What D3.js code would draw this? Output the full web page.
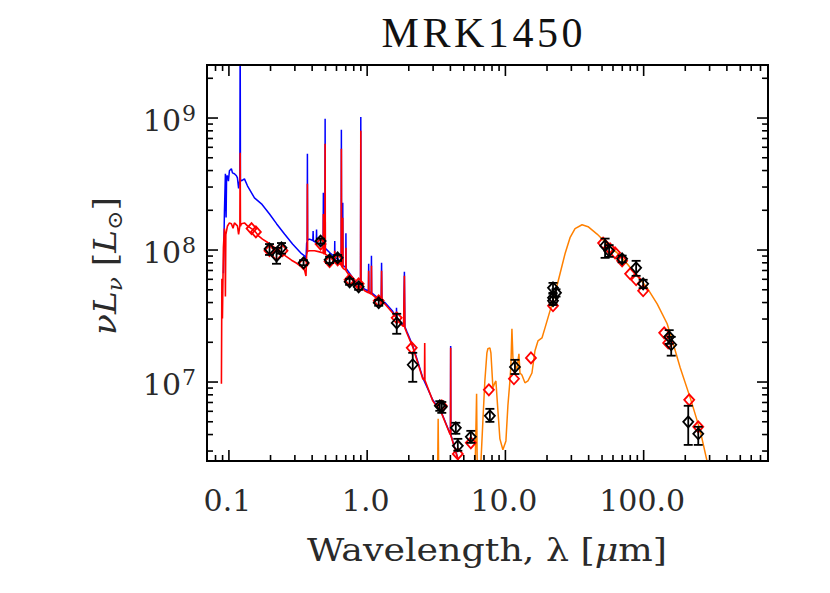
<html>
<head>
<script src="https://d3js.org/d3.v7.min.js"></script>
<style>
body { margin: 0; background: #fff; }
text { font-family: "Liberation Serif", "DejaVu Serif", serif; fill: #111; }
text.num { font-family: "DejaVu Serif", serif; fill: #2a2a2a; }
</style>
</head>
<body>
<svg id="sed" width="830" height="593"></svg>
<script>
// ---- data (wavelength in micron, nuL_nu in L_sun) ----
var titleText = "MRK1450";

// stellar template, unattenuated (blue)
var blueSpec = [
  [0.0920, 6.6e7], [0.0936, 1.96e8], [0.0951, 3.75e8], [0.0962, 1.75e8], [0.0970, 3.6e8],
  [0.0983, 3.62e8], [0.1000, 3.3e8], [0.1017, 3.95e8], [0.1051, 4.09e8], [0.1070, 3.81e8],
  [0.1105, 3.75e8], [0.1143, 3.62e8], [0.1162, 3.49e8], [0.1185, 2.9e8], [0.1210, 3.4e8],
  [0.1216, 5.0e9], [0.1222, 3.4e8], [0.1242, 3.31e8], [0.1306, 3.43e8], [0.1373, 3.04e8],
  [0.1543, 2.46e8], [0.1734, 2.22e8], [0.1983, 1.86e8], [0.2228, 1.57e8], [0.2545, 1.31e8],
  [0.2910, 1.10e8], [0.3381, 9.3e7], [0.3554, 8.96e7], [0.3640, 8.3e7], [0.3680, 1.12e8],
  [0.3715, 1.15e8], [0.3727, 5.31e8], [0.3740, 1.18e8], [0.3864, 1.20e8], [0.4080, 1.17e8],
  [0.4100, 1.38e8], [0.4120, 1.16e8], [0.4320, 1.13e8], [0.4340, 1.42e8], [0.4360, 1.12e8],
  [0.4564, 1.10e8], [0.4845, 1.06e8], [0.4861, 2.69e8], [0.4877, 1.05e8], [0.4990, 1.03e8],
  [0.5007, 9.78e8], [0.5024, 1.02e8], [0.5395, 9.5e7], [0.5860, 8.8e7], [0.5876, 1.16e8],
  [0.5892, 8.7e7], [0.6165, 8.5e7], [0.6540, 8.0e7], [0.6563, 8.07e8], [0.6585, 7.9e7],
  [0.6690, 7.7e7], [0.6717, 2.26e8], [0.6740, 7.6e7], [0.7060, 7.3e7], [0.7080, 1.33e8],
  [0.7100, 7.2e7], [0.7600, 6.5e7], [0.8500, 5.5e7], [0.9030, 5.35e7], [0.9069, 1.01e9],
  [0.9100, 5.3e7], [0.9672, 5.0e7], [1.0300, 4.85e7], [1.0340, 7.79e7], [1.0380, 4.8e7],
  [1.0790, 4.7e7], [1.0830, 8.96e7], [1.0870, 4.7e7], [1.2420, 4.2e7], [1.2740, 4.08e7],
  [1.2820, 7.93e7], [1.2900, 4.05e7], [1.3500, 3.98e7], [1.5430, 3.4e7], [1.6400, 3.05e7],
  [1.6440, 3.62e7], [1.6480, 3.02e7], [1.7340, 2.85e7], [1.8500, 2.66e7], [1.8750, 6.78e7],
  [1.8900, 2.6e7], [1.9500, 2.4e7], [2.1540, 1.87e7], [2.3420, 1.42e7], [2.5450, 1.07e7],
  [3.0080, 7.25e6], [3.4950, 5.75e6], [3.9950, 4.08e6], [4.0400, 4.0e6], [4.0520, 1.86e7],
  [4.0640, 3.95e6], [4.5640, 2.62e6], [4.9000, 2.0e6]
];

// stellar template, attenuated (red)
var redSpec = [
  [0.0890, 9.6e6], [0.0897, 6.0e7], [0.0905, 3.0e7], [0.0920, 1.03e8], [0.0936, 1.44e8],
  [0.0945, 1.2e8], [0.0951, 4.4e7], [0.0958, 1.3e8], [0.0983, 1.50e8], [0.1017, 1.59e8],
  [0.1051, 1.57e8], [0.1080, 1.45e8], [0.1105, 1.59e8], [0.1162, 1.51e8], [0.1185, 1.30e8],
  [0.1210, 1.52e8], [0.1216, 5.4e8], [0.1222, 1.50e8], [0.1242, 1.57e8], [0.1306, 1.59e8],
  [0.1373, 1.51e8], [0.1468, 1.44e8], [0.1543, 1.39e8], [0.1650, 1.27e8], [0.1764, 1.20e8],
  [0.1900, 1.14e8], [0.2049, 1.08e8], [0.2250, 1.00e8], [0.2421, 9.5e7], [0.2600, 8.9e7],
  [0.2861, 8.3e7], [0.3100, 7.9e7], [0.3381, 7.4e7], [0.3554, 7.0e7], [0.3640, 6.3e7],
  [0.3680, 9.0e7], [0.3715, 9.6e7], [0.3727, 3.15e8], [0.3740, 9.7e7], [0.3864, 9.8e7],
  [0.4201, 9.8e7], [0.4564, 9.6e7], [0.4845, 9.4e7], [0.4861, 1.86e8], [0.4877, 9.3e7],
  [0.4990, 9.3e7], [0.5007, 6.32e8], [0.5024, 9.2e7], [0.5395, 8.8e7], [0.5860, 8.4e7],
  [0.5876, 9.8e7], [0.5892, 8.3e7], [0.6165, 8.1e7], [0.6540, 7.6e7], [0.6563, 5.79e8],
  [0.6585, 7.5e7], [0.6690, 7.3e7], [0.6717, 1.74e8], [0.6740, 7.2e7], [0.7060, 7.0e7],
  [0.7080, 1.03e8], [0.7100, 6.9e7], [0.7600, 6.2e7], [0.8500, 5.3e7],
  [0.9030, 5.2e7], [0.9069, 7.93e8], [0.9100, 5.2e7], [0.9672, 4.87e7], [1.0300, 4.7e7],
  [1.0340, 6.9e7], [1.0380, 4.7e7], [1.0790, 4.6e7], [1.0830, 7.52e7], [1.0870, 4.6e7],
  [1.2420, 4.09e7], [1.2740, 3.97e7], [1.2820, 6.9e7], [1.2900, 3.93e7], [1.3500, 3.88e7],
  [1.5430, 3.31e7], [1.7340, 2.78e7], [1.8500, 2.6e7], [1.8750, 6.32e7], [1.8900, 2.55e7],
  [1.9500, 2.34e7], [2.1540, 1.83e7], [2.3420, 1.39e7], [2.5450, 1.05e7], [2.6200, 1.03e7],
  [2.6300, 1.96e7], [2.6400, 1.02e7], [3.0080, 7.14e6], [3.4950, 5.69e6], [3.9950, 4.02e6],
  [4.0400, 3.95e6], [4.0520, 1.80e7], [4.0640, 3.9e6], [4.5640, 2.60e6], [4.9000, 2.0e6]
];

// dust emission model (orange)
var dustSpec = [
  [3.10, 1.2e6], [3.26, 2.0e6], [3.29, 5.22e6], [3.32, 2.0e6], [3.50, 1.2e6],
  [5.80, 1.2e6], [6.10, 2.4e6], [6.24, 8.07e6], [6.30, 2.6e6], [6.45, 1.8e6],
  [6.70, 2.4e6], [6.93, 5.04e6], [7.16, 1.01e7], [7.41, 1.65e7], [7.53, 1.77e7],
  [7.79, 1.80e7], [7.92, 1.65e7], [8.19, 8.96e6], [8.46, 9.78e6], [8.61, 1.01e7],
  [8.75, 7.79e6], [9.20, 3.68e6], [9.67, 3.04e6], [10.17, 3.55e6], [10.51, 6.55e6],
  [10.87, 1.01e7], [11.05, 1.32e7], [11.24, 2.51e7], [11.43, 1.51e7], [11.82, 1.32e7],
  [12.22, 1.25e7], [12.63, 1.62e7], [12.85, 1.16e7], [13.28, 1.12e7], [13.96, 9.78e6],
  [14.68, 1.01e7], [15.69, 1.16e7], [16.50, 1.71e7], [17.34, 2.03e7], [18.54, 2.14e7],
  [19.50, 2.55e7], [21.19, 3.43e7], [23.03, 4.62e7], [25.04, 6.55e7], [27.22, 9.28e7],
  [29.58, 1.23e8], [32.16, 1.44e8], [36.14, 1.54e8], [39.95, 1.49e8], [46.42, 1.31e8],
  [54.85, 1.10e8], [64.80, 9.44e7], [76.57, 7.79e7], [90.48, 6.32e7], [106.9, 5.13e7],
  [126.3, 3.88e7], [149.2, 2.74e7], [165.0, 1.93e7], [185.4, 1.27e7], [219.1, 7.52e6],
  [258.8, 4.23e6], [291.0, 2.45e6], [330.0, 1.4e6]
];

// model photometry (red diamonds)
var modelPoints = [
  [0.147, 1.44e8], [0.158, 1.36e8], [0.1983, 9.8e7], [0.2228, 9.1e7], [0.2462, 9.8e7],
  [0.3495, 7.8e7], [0.4642, 1.10e8], [0.5395, 8.1e7], [0.6165, 8.35e7], [0.753, 5.9e7],
  [0.875, 5.5e7], [1.222, 4.09e7], [1.65, 3.04e7], [2.119, 1.80e7], [3.495, 6.55e6],
  [4.564, 2.83e6], [5.67, 3.43e6], [7.657, 8.65e6], [11.62, 1.05e7], [15.43, 1.51e7],
  [22.28, 3.75e7], [51.31, 1.12e8], [57.67, 1.01e8], [62.67, 9.44e7], [70.44, 8.21e7],
  [80.48, 6.55e7], [88.97, 5.9e7], [100.0, 4.87e7], [142.0, 2.34e7], [151.7, 1.96e7],
  [215.4, 7.27e6], [250.4, 4.54e6]
];

// observed photometry: wavelength, value, lower, upper (black diamonds)
var obsPoints = [
  [0.1983, 1.01e8, 9.1e7, 1.10e8], [0.2228, 8.96e7, 7.8e7, 1.03e8], [0.2421, 1.03e8, 9.3e7, 1.12e8],
  [0.3495, 7.93e7, 7.6e7, 8.3e7], [0.4642, 1.16e8, 1.11e8, 1.21e8], [0.5395, 8.35e7, 7.9e7, 8.8e7],
  [0.6165, 8.65e7, 8.2e7, 9.1e7], [0.753, 5.69e7, 5.4e7, 6.0e7], [0.875, 5.22e7, 4.95e7, 5.5e7],
  [1.222, 3.95e7, 3.75e7, 4.15e7], [1.65, 2.78e7, 2.30e7, 3.26e7], [2.154, 1.34e7, 9.95e6, 1.65e7],
  [3.381, 6.55e6, 6.0e6, 7.1e6], [3.495, 6.43e6, 5.79e6, 7.0e6], [4.415, 4.46e6, 4.02e6, 4.87e6],
  [4.564, 3.26e6, 2.99e6, 3.68e6], [5.67, 3.81e6, 3.43e6, 4.23e6], [7.786, 5.5e6, 4.95e6, 6.21e6],
  [11.82, 1.29e7, 1.14e7, 1.46e7], [22.28, 5.13e7, 4.62e7, 5.59e7], [22.28, 4.31e7, 3.95e7, 4.7e7],
  [22.28, 4.09e7, 3.8e7, 4.4e7], [23.42, 4.70e7, 4.4e7, 5.0e7], [53.05, 1.07e8, 8.65e7, 1.21e8],
  [56.7, 9.77e7, 8.8e7, 1.08e8], [70.44, 8.5e7, 8.0e7, 9.0e7], [88.97, 7.27e7, 6.32e7, 8.21e7],
  [100.0, 5.5e7, 5.1e7, 5.9e7], [154.3, 2.18e7, 1.93e7, 2.45e7], [159.6, 1.90e7, 1.57e7, 2.18e7],
  [211.9, 4.95e6, 3.31e6, 6.55e6], [250.4, 4.02e6, 3.31e6, 4.54e6]
];

// ticks
var xMajor = [0.1, 1, 10, 100];
var xLabels = ["0.1", "1.0", "10.0", "100.0"];
var xMinor = [0.08, 0.09, 0.2, 0.3, 0.4, 0.5, 0.6, 0.7, 0.8, 0.9, 2, 3, 4, 5, 6, 7, 8, 9,
              20, 30, 40, 50, 60, 70, 80, 90, 200, 300, 400, 500, 600, 700];
var yMajor = [1e7, 1e8, 1e9];
var yLabels = ["7", "8", "9"];
var yMinor = [3e6, 4e6, 5e6, 6e6, 7e6, 8e6, 9e6, 2e7, 3e7, 4e7, 5e7, 6e7, 7e7, 8e7, 9e7,
              2e8, 3e8, 4e8, 5e8, 6e8, 7e8, 8e8, 9e8, 2e9];

// ---- layout ----
var pLeft = 207, pRight = 768, pTop = 65, pBottom = 461;

var svg = d3.select("#sed");

var x = d3.scaleLog().domain([0.07, 800]).range([pLeft, pRight]);
var y = d3.scaleLog().domain([2.5e6, 2.5e9]).range([pBottom, pTop]);

svg.append("clipPath").attr("id", "plotclip")
  .append("rect").attr("x", pLeft).attr("y", pTop)
  .attr("width", pRight - pLeft).attr("height", pBottom - pTop);

var line = d3.line()
  .x(function(d) { return x(d[0]); })
  .y(function(d) { return y(d[1]); });

var plot = svg.append("g").attr("clip-path", "url(#plotclip)");

plot.append("path").datum(blueSpec)
  .attr("fill", "none").attr("stroke", "#0000ff").attr("stroke-width", 1.5)
  .attr("stroke-linejoin", "bevel").attr("d", line);
plot.append("path").datum(redSpec)
  .attr("fill", "none").attr("stroke", "#ff0000").attr("stroke-width", 1.6)
  .attr("stroke-linejoin", "bevel").attr("d", line);
plot.append("path").datum(dustSpec)
  .attr("fill", "none").attr("stroke", "#ff8000").attr("stroke-width", 1.5)
  .attr("stroke-linejoin", "bevel").attr("d", line);

var diamond = "M0,-5.5L5,0L0,5.5L-5,0Z";

// model points
plot.selectAll(".model").data(modelPoints).enter().append("path")
  .attr("class", "model")
  .attr("d", diamond)
  .attr("transform", function(d) { return "translate(" + x(d[0]) + "," + y(d[1]) + ")"; })
  .attr("fill", "none").attr("stroke", "#ff0000").attr("stroke-width", 1.8);

// observed points with error bars
var obs = plot.selectAll(".obs").data(obsPoints).enter().append("g").attr("class", "obs");
obs.append("line")
  .attr("x1", function(d) { return x(d[0]); }).attr("x2", function(d) { return x(d[0]); })
  .attr("y1", function(d) { return y(d[2]); }).attr("y2", function(d) { return y(d[3]); })
  .attr("stroke", "#000").attr("stroke-width", 1.8);
obs.append("line")
  .attr("x1", function(d) { return x(d[0]) - 4.5; }).attr("x2", function(d) { return x(d[0]) + 4.5; })
  .attr("y1", function(d) { return y(d[2]); }).attr("y2", function(d) { return y(d[2]); })
  .attr("stroke", "#000").attr("stroke-width", 1.8);
obs.append("line")
  .attr("x1", function(d) { return x(d[0]) - 4.5; }).attr("x2", function(d) { return x(d[0]) + 4.5; })
  .attr("y1", function(d) { return y(d[3]); }).attr("y2", function(d) { return y(d[3]); })
  .attr("stroke", "#000").attr("stroke-width", 1.8);
obs.append("path")
  .attr("d", diamond)
  .attr("transform", function(d) { return "translate(" + x(d[0]) + "," + y(d[1]) + ")"; })
  .attr("fill", "none").attr("stroke", "#000").attr("stroke-width", 1.8);

// ---- axes: ticks on all four sides ----
function ticks(axis, vals, size, tr) {
  var g = svg.append("g").attr("transform", tr)
    .call(axis.tickValues(vals).tickSize(size).tickSizeOuter(0).tickFormat(""));
  g.select(".domain").remove();
  g.selectAll("line").attr("stroke", "#000").attr("stroke-width", 1.6);
}
ticks(d3.axisBottom(x), xMajor, -11, "translate(0," + pBottom + ")");
ticks(d3.axisBottom(x), xMinor, -6, "translate(0," + pBottom + ")");
ticks(d3.axisTop(x), xMajor, -11, "translate(0," + pTop + ")");
ticks(d3.axisTop(x), xMinor, -6, "translate(0," + pTop + ")");
ticks(d3.axisLeft(y), yMajor, -11, "translate(" + pLeft + ",0)");
ticks(d3.axisLeft(y), yMinor, -6, "translate(" + pLeft + ",0)");
ticks(d3.axisRight(y), yMajor, -11, "translate(" + pRight + ",0)");
ticks(d3.axisRight(y), yMinor, -6, "translate(" + pRight + ",0)");

svg.append("rect")
  .attr("x", pLeft).attr("y", pTop).attr("width", pRight - pLeft).attr("height", pBottom - pTop)
  .attr("fill", "none").attr("stroke", "#000").attr("stroke-width", 2);

// tick labels
svg.selectAll(".xlab").data(xMajor).enter().append("text")
  .attr("class", "xlab num")
  .attr("x", function(d) { return x(d) - 1; }).attr("y", 511)
  .attr("text-anchor", "middle").attr("font-size", 30)
  .text(function(d, i) { return xLabels[i]; });

svg.selectAll(".ylab").data(yMajor).enter().append("text")
  .attr("class", "ylab num")
  .attr("x", 181).attr("y", function(d) { return y(d) + 13; })
  .attr("text-anchor", "end").attr("font-size", 30)
  .text("10");
svg.selectAll(".yexp").data(yMajor).enter().append("text")
  .attr("class", "yexp num")
  .attr("x", 182).attr("y", function(d) { return y(d) + 3; })
  .attr("font-size", 22)
  .text(function(d, i) { return yLabels[i]; });

// titles
svg.append("text")
  .attr("x", 482).attr("y", 47).attr("text-anchor", "middle")
  .attr("font-size", 42).attr("textLength", 201).attr("lengthAdjust", "spacing")
  .text(titleText);

var xt = svg.append("text")
  .attr("class", "num")
  .attr("x", 487).attr("y", 561).attr("text-anchor", "middle")
  .attr("font-size", 31).attr("textLength", 360).attr("lengthAdjust", "spacingAndGlyphs");
xt.append("tspan").text("Wavelength, λ [");
xt.append("tspan").attr("font-style", "italic").text("μ");
xt.append("tspan").text("m]");

var yt = svg.append("text")
  .attr("class", "num")
  .attr("transform", "translate(116,266) rotate(-90)")
  .attr("text-anchor", "middle").attr("font-size", 31)
  .attr("textLength", 138).attr("lengthAdjust", "spacingAndGlyphs");
yt.append("tspan").attr("font-style", "italic").text("νL");
yt.append("tspan").attr("font-style", "italic").attr("font-size", 21).attr("dy", 6).text("ν");
yt.append("tspan").attr("dy", -6).text(" [");
yt.append("tspan").attr("font-style", "italic").text("L");
yt.append("tspan").attr("font-size", 21).attr("dy", 6).text("⊙");
yt.append("tspan").attr("dy", -6).text("]");
</script>
</body>
</html>
